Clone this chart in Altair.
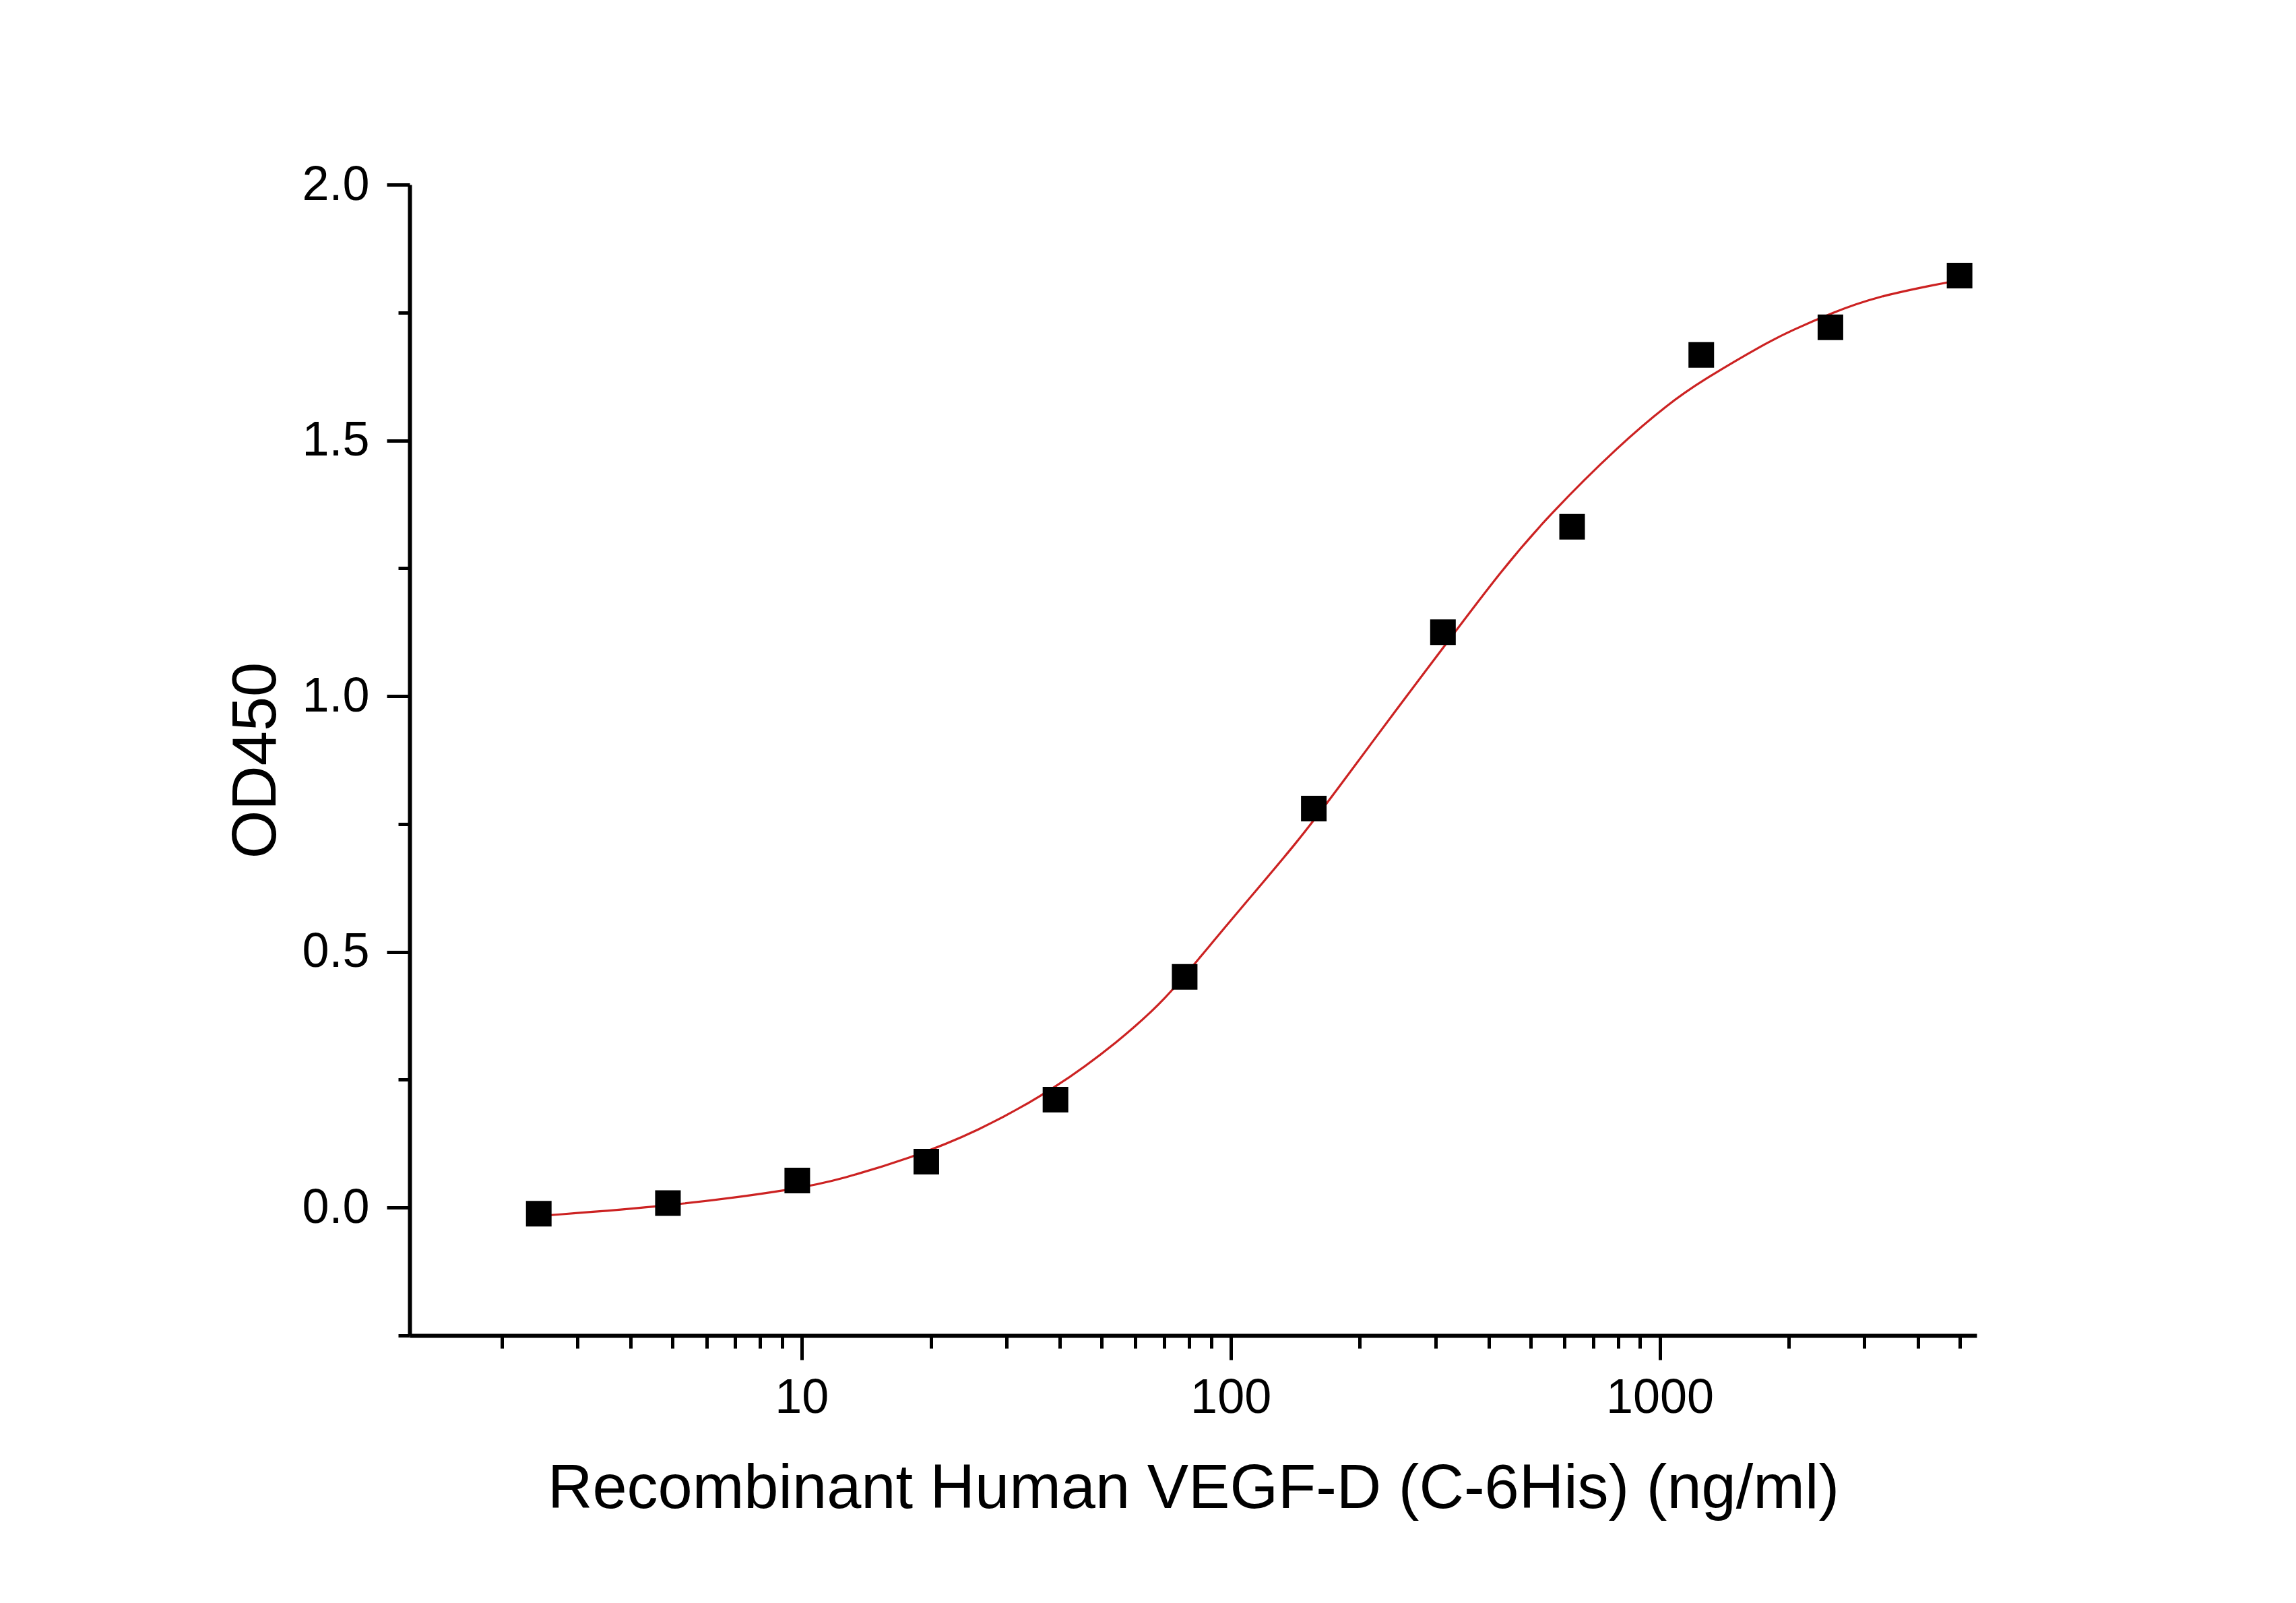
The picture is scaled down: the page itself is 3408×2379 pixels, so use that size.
import altair as alt
import pandas as pd

# Measured points: concentration (ng/ml) and OD450
conc = [2.44, 4.88, 9.77, 19.53, 39.06, 78.13, 156.25, 312.5, 625, 1250, 2500, 5000]
od450 = [-0.012, 0.009, 0.053, 0.090, 0.211, 0.451, 0.780, 1.125, 1.331, 1.667, 1.721, 1.822]

# Fitted dose-response curve, traced along its length
fit_conc = [2.47, 4.90, 9.79, 12.4, 17.8, 25.5, 39.2, 55.7, 65.9, 73.4, 100.0, 144.7, 177.7,
            247.5, 312.5, 429.3, 554.6, 808.0, 1047.4, 1238, 1776, 2017, 2551, 3168, 4549, 4989]
fit_od = [-0.016, 0.0025, 0.036, 0.056, 0.096, 0.147, 0.233, 0.330, 0.386, 0.425, 0.562, 0.719, 0.819,
          0.982, 1.094, 1.248, 1.356, 1.492, 1.571, 1.614, 1.691, 1.714, 1.751, 1.780, 1.807, 1.813]

# Axis ticks (log decades with 2..9 minors; y every 0.25)
x_ticks = [2, 3, 4, 5, 6, 7, 8, 9, 10, 20, 30, 40, 50, 60, 70, 80, 90, 100,
           200, 300, 400, 500, 600, 700, 800, 900, 1000, 2000, 3000, 4000, 5000]
y_ticks = [-0.25, 0.0, 0.25, 0.5, 0.75, 1.0, 1.25, 1.5, 1.75, 2.0]

x_domain = [1.22, 5480]
y_domain = [-0.25, 2.0]

points = pd.DataFrame({"conc": conc, "od": od450})
curve = pd.DataFrame({"conc": fit_conc, "od": fit_od})

FONT = "Liberation Sans"
is_decade = "abs(log(datum.value)/LN10 - round(log(datum.value)/LN10)) < 1e-6"
is_half = "abs(datum.value*2 - round(datum.value*2)) < 1e-6"

x_enc = alt.X(
    "conc:Q",
    scale=alt.Scale(type="log", domain=x_domain, nice=False),
    axis=alt.Axis(
        title="Recombinant Human VEGF-D (C-6His) (ng/ml)",
        values=x_ticks,
        labelExpr=f"{is_decade} ? format(datum.value, 'd') : ''",
        labelOverlap=False,
        labelFlush=False,
        tickSize={"condition": {"test": is_decade, "value": 36}, "value": 19},
        labelPadding=21,
        titlePadding=54,
    ),
)
y_enc = alt.Y(
    "od:Q",
    scale=alt.Scale(domain=y_domain, nice=False, zero=False),
    axis=alt.Axis(
        title="OD450",
        values=y_ticks,
        labelExpr=f"{is_half} ? format(datum.value, '.1f') : ''",
        labelOverlap=False,
        labelFlush=False,
        tickSize={"condition": {"test": is_half, "value": 34}, "value": 17},
        labelPadding=26,
        titlePadding=20,
    ),
)

line = alt.Chart(curve).mark_line(
    color="#cc2222", strokeWidth=3.2, interpolate="basis"
).encode(x=x_enc, y=y_enc)

dots = alt.Chart(points).mark_point(
    shape="square", filled=True, color="black", opacity=1, size=1444
).encode(x="conc:Q", y="od:Q")

chart = (
    alt.layer(line, dots)
    .properties(
        width=2326,
        height=1708,
        autosize=alt.AutoSizeParams(type="none"),
        padding={"left": 608, "top": 274, "right": 474, "bottom": 397},
        background="white",
    )
    .configure_view(stroke=None)
    .configure_axis(
        grid=False,
        domainColor="black",
        domainWidth=6,
        tickColor="black",
        tickWidth=5,
        labelFont=FONT,
        labelFontSize=72,
        labelColor="black",
        titleFont=FONT,
        titleFontSize=92,
        titleFontWeight="normal",
        titleColor="black",
    )
)

chart.save("out.html", embed_options={"renderer": "svg", "actions": False})
